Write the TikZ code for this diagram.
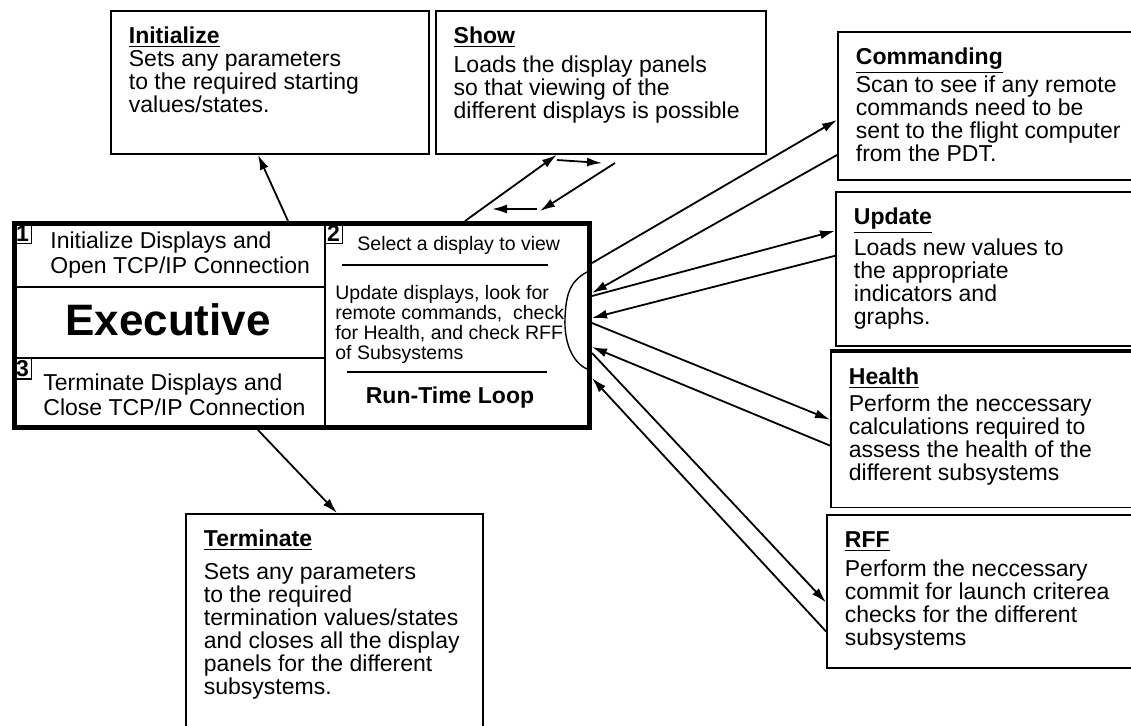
\documentclass[tikz,border=0pt]{standalone}
\usepackage{fontspec}
\setmainfont{Liberation Sans}
\usetikzlibrary{arrows.meta,positioning}

\newcommand{\cardfont}{\fontsize{11.5}{11.5}\selectfont}
\newcommand{\runfont}{\fontsize{9.75}{10}\selectfont}
\newcommand{\cardhead}[1]{\textbf{\underline{#1}}}
\newcommand{\cardbody}[3]{\parbox[t][#2][t]{#1}{\raggedright #3}}

\begin{document}
\begin{tikzpicture}[x=0.5pt,y=-0.5pt,node distance=2.5pt,
    card/.style={draw,line width=0.9pt,anchor=north west,inner xsep=9pt,inner ysep=8pt,font=\cardfont},
    stepno/.style={draw,line width=0.8pt,anchor=north west,inner sep=1.2pt,font=\cardfont\bfseries},
    steptext/.style={anchor=north west,align=left,inner sep=0pt,font=\fontsize{11.5}{12.5}\selectfont},
    arr/.style={-{Latex[length=7.5pt,width=4.5pt]},line width=0.9pt}]

\useasboundingbox (0,0) rectangle (1131,725);

% executive block
\node[draw,line width=2.5pt,anchor=north west,minimum width=287.5pt,minimum height=102pt,inner sep=0pt] (exec) at (12,221) {};
\draw[line width=1pt] (325,222) -- (325,426);
\draw[line width=1pt] (14,287) -- (325,287);
\draw[line width=1pt] (14,358) -- (325,358);

\node[stepno] (n1) at (13,222) {1};
\node[steptext] (initstep) at (50,231) {Initialize Displays and\\Open TCP/IP Connection};
\node[font=\fontsize{22}{22}\selectfont\bfseries] (execlabel) at (168,320) {Executive};
\node[stepno] (n3) at (13,357) {3};
\node[steptext] (termstep) at (43,373) {Terminate Displays and\\Close TCP/IP Connection};

\node[stepno] (n2) at (324,222) {2};
\node[anchor=west,inner sep=0pt,font=\runfont] (selstep) at (357,245) {Select a display to view};
\draw[line width=0.9pt] (342,265) -- (548,265);
\node[anchor=north west,align=left,inner sep=0pt,font=\runfont] (loopbody) at (335,285)
    {Update displays, look for\\remote commands,~ check\\for Health, and check RFF\\of Subsystems};
\draw[line width=0.9pt] (347,372) -- (547,372);
\node[font=\cardfont\bfseries] (runloop) at (450,398) {Run-Time Loop};
\draw[line width=0.7pt] (587,272) .. controls (568,282) and (566,298) .. (565,318)
    .. controls (564,342) and (572,362) .. (587,369);

% task boxes
\node[card] (init) at (110,10) {\cardbody{141pt}{55.5pt}{\cardhead{Initialize}\\
    Sets any parameters\\to the required starting\\values/states.}};
\node[card] (show) [right=of init.north east,anchor=north west] {\cardbody{147pt}{55.5pt}{\cardhead{Show}\\[3pt]
    Loads the display panels\\so that viewing of the\\different displays is possible}};
\node[card] (cmd) at (837,31) {\cardbody{138.5pt}{58pt}{\cardhead{Commanding}\\
    Scan to see if any remote\\commands need to be\\sent to the flight computer\\from the PDT.}};
\node[card] (upd) [below=5pt of cmd.south west,anchor=north west,xshift=-1pt] {\cardbody{139.5pt}{61pt}{\cardhead{Update}\\[2pt]
    Loads new values to\\the appropriate\\indicators and\\graphs.}};
\node[card] (hlth) [below=2pt of upd.south west,anchor=north west,xshift=-2.5pt] {\cardbody{142pt}{62pt}{\cardhead{Health}\\[2pt]
    Perform the neccessary\\calculations required to\\assess the health of the\\different subsystems}};
\node[card] (rff) [below=3pt of hlth.south west,anchor=north west,xshift=-2pt] {\cardbody{136pt}{60.5pt}{\cardhead{RFF}\\[3pt]
    Perform the neccessary\\commit for launch criterea\\checks for the different\\subsystems}};
\node[card] (term) at (185,513) {\cardbody{130.5pt}{130pt}{\cardhead{Terminate}\\[5pt]
    Sets any parameters\\to the required\\termination values/states\\and closes all the display\\panels for the different\\subsystems.}};
\draw[line width=2pt] (hlth.north west) -- (hlth.north east);

% loose ends of the show arrows
\coordinate (sb1) at (557,160);
\coordinate (sb2) at (602,163);
\coordinate (sc1) at (615,163);
\coordinate (sc2) at (540,211);
\coordinate (sd1) at (537,209);
\coordinate (sd2) at (492,209);

\path[arr]
    ([xshift=138pt]exec.north west) edge (init.south west -| 258,0)
    ([xshift=226.5pt]exec.north west) edge ([xshift=61pt]show.south west)
    (sb1) edge (sb2)
    (sc1) edge (sc2)
    (sd1) edge (sd2)
    ([xshift=123pt]exec.south west) edge ([xshift=76pt]term.north west)
    ([yshift=-21pt]exec.north east) edge ([yshift=-44.5pt]cmd.north west)
    ([yshift=-62pt]cmd.north west) edge ([yshift=-36pt]exec.north east)
    ([yshift=-37.5pt]exec.north east) edge ([yshift=-20pt]upd.north west)
    ([yshift=-32.5pt]upd.north west) edge ([yshift=-48.5pt]exec.north east)
    ([yshift=-51pt]exec.north east) edge ([yshift=-34.5pt]hlth.north west)
    ([yshift=-47.5pt]hlth.north west) edge ([yshift=-63pt]exec.north east)
    ([yshift=-66pt]exec.north east) edge ([yshift=-44pt]rff.north west)
    ([yshift=-58.5pt]rff.north west) edge ([yshift=-78.5pt]exec.north east);

\end{tikzpicture}
\end{document}
